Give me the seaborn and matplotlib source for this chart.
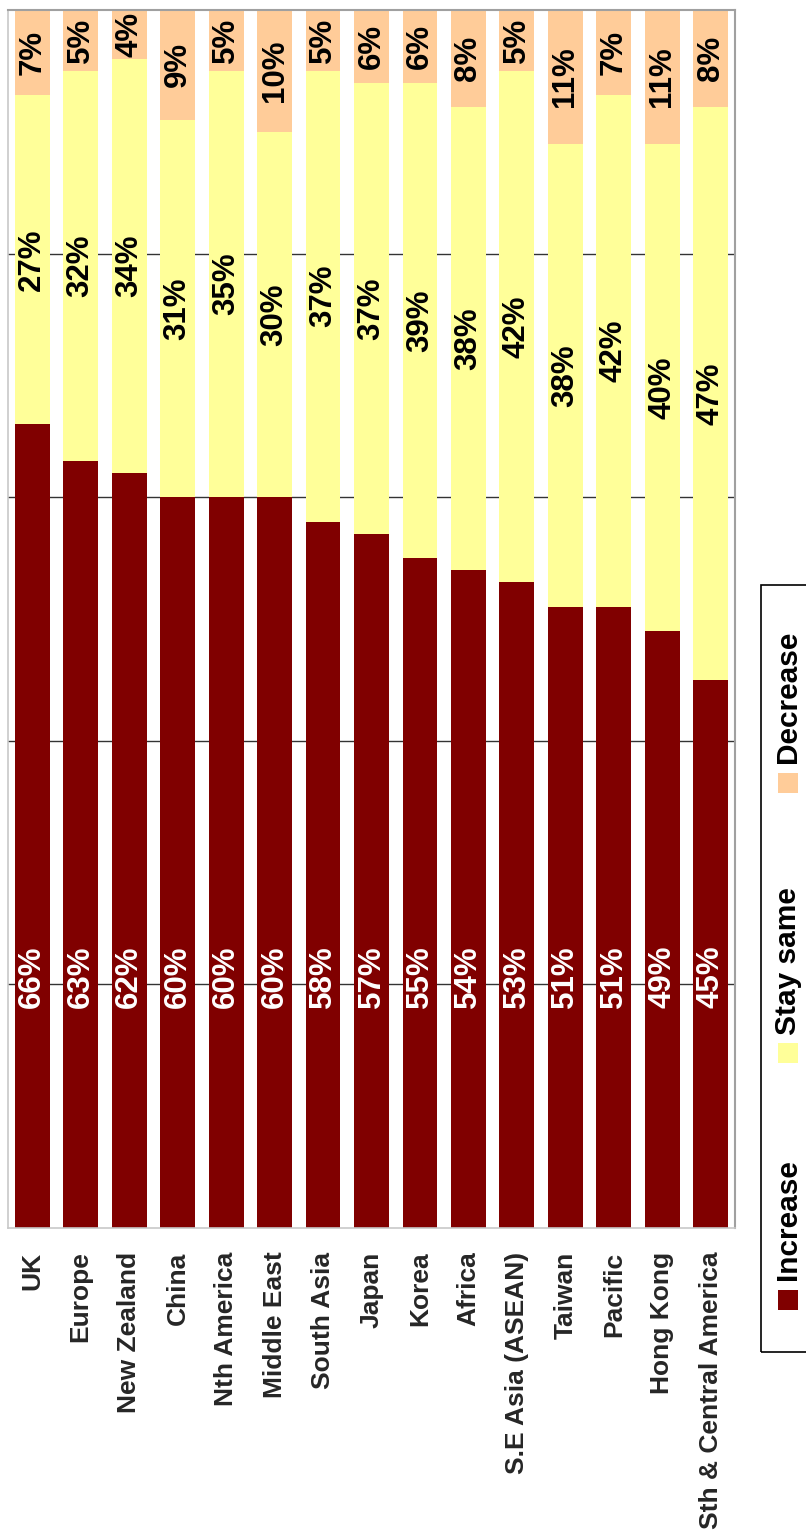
import numpy as np
import pandas as pd
import matplotlib
matplotlib.use("Agg")
import matplotlib.pyplot as plt
from matplotlib.patches import Rectangle
import seaborn as sns

# Survey results by region (% of respondents)
regions = ["UK", "Europe", "New Zealand", "China", "Nth America", "Middle East",
           "South Asia", "Japan", "Korea", "Africa", "S.E Asia (ASEAN)", "Taiwan",
           "Pacific", "Hong Kong", "Sth & Central America"]
increase = [66, 63, 62, 60, 60, 60, 58, 57, 55, 54, 53, 51, 51, 49, 45]
stay_same = [27, 32, 34, 31, 35, 30, 37, 37, 39, 38, 42, 38, 42, 40, 47]
decrease = [7, 5, 4, 9, 5, 10, 5, 6, 6, 8, 5, 11, 7, 11, 8]

series_names = ["Increase", "Stay same", "Decrease"]
series_colors = ["#800000", "#FFFF99", "#FFCC99"]

sns.set_style("white")
plt.rcParams["font.family"] = ["Liberation Sans", "DejaVu Sans"]
plt.rcParams["font.weight"] = "bold"

df = pd.DataFrame({"region": regions, "Increase": increase,
                   "Stay same": stay_same, "Decrease": decrease})
df["top_inc"] = df["Increase"]
df["top_stay"] = df["Increase"] + df["Stay same"]
df["top_dec"] = df["top_stay"] + df["Decrease"]

fig = plt.figure(figsize=(8.06, 15.39), dpi=100)
ax = fig.add_axes([8 / 806, 1 - 1228 / 1539, (735 - 8) / 806, (1228 - 10) / 1539])

# Stacked columns: draw cumulative totals from the back to the front
bar_w = 0.72
for col, color in [("top_dec", series_colors[2]), ("top_stay", series_colors[1]),
                   ("top_inc", series_colors[0])]:
    sns.barplot(data=df, x="region", y=col, color=color, width=bar_w,
                saturation=1, edgecolor="none", linewidth=0, ax=ax, zorder=2)

ax.set_xlim(-0.5, len(regions) - 0.5)
ax.set_ylim(0, 100)
ax.set_yticks([20, 40, 60, 80])
ax.set_yticklabels([])
ax.tick_params(axis="y", length=0)
ax.yaxis.grid(True, color="#333333", linewidth=1.0, zorder=0)
ax.set_axisbelow(True)
ax.set_xlabel("")
ax.set_ylabel("")

# Category labels, with separator ticks between categories
ax.set_xticks(range(len(regions)))
ax.set_xticklabels(regions, rotation=90, fontsize=19, fontweight="bold")
ax.tick_params(axis="x", which="major", length=0, pad=17)
ax.set_xticks(np.arange(-0.5, len(regions), 1.0), minor=True)
ax.tick_params(axis="x", which="minor", length=7.5, color="#c0c0c0", width=1)

for side in ["left", "bottom"]:
    ax.spines[side].set_color("#c8c8c8")
    ax.spines[side].set_linewidth(1.2)
for side in ["top", "right"]:
    ax.spines[side].set_color("#a0a0a0")
    ax.spines[side].set_linewidth(1.5)

# Value labels
for i in range(len(regions)):
    ax.text(i, 20.6, f"{increase[i]}%", rotation=90, ha="center", va="center",
            color="white", fontsize=22.5, fontweight="bold", zorder=5)
    ax.text(i, increase[i] + stay_same[i] / 2, f"{stay_same[i]}%", rotation=90,
            ha="center", va="center", color="black", fontsize=22.5,
            fontweight="bold", zorder=5)
    ax.text(i, increase[i] + stay_same[i] + decrease[i] / 2, f"{decrease[i]}%",
            rotation=90, ha="center", va="center", color="black", fontsize=22.5,
            fontweight="bold", zorder=5)

# Legend, drawn vertically along the lower right
H = 1539.0
W = 806.0
fig.patches.append(Rectangle((761 / W, 1 - 1352 / H), (815 - 761) / W, (1352 - 585) / H,
                             transform=fig.transFigure, fill=False,
                             edgecolor="black", linewidth=1.2, clip_on=False))
legend_slots = [(1280, 1310), (1035, 1063), (763, 793)]  # (text end, swatch bottom) in px
for name, color, (t_end, sq_bot) in zip(series_names, series_colors, legend_slots):
    fig.patches.append(Rectangle((778 / W, 1 - sq_bot / H), 20 / W, 20 / H,
                                 transform=fig.transFigure, facecolor=color,
                                 edgecolor="none"))
    fig.text(788 / W, 1 - t_end / H, name, rotation=90, ha="center", va="bottom",
             fontsize=21.5, fontweight="bold", color="black")

fig.savefig("out.png", dpi=100)
